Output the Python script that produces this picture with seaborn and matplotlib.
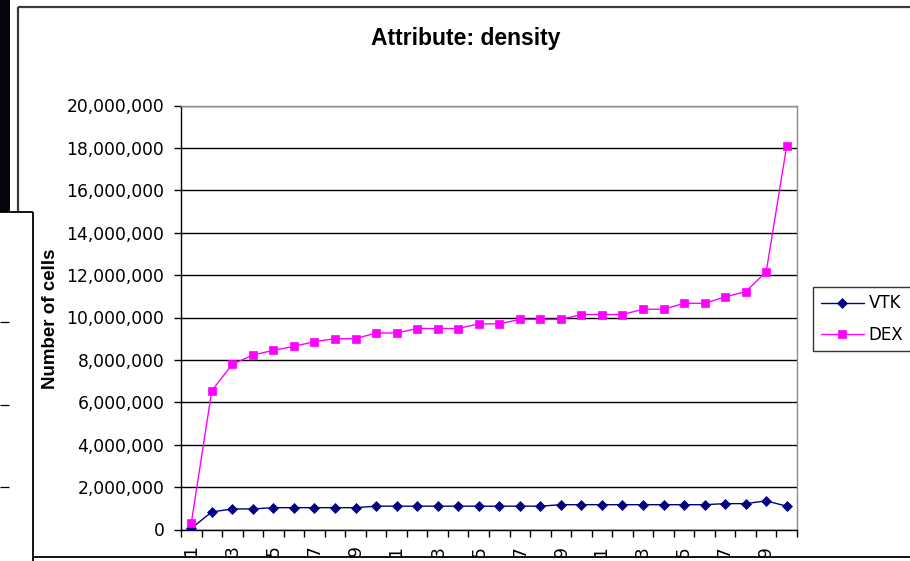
import matplotlib
matplotlib.use("Agg")
import matplotlib.pyplot as plt
from matplotlib.lines import Line2D
from matplotlib.patches import Rectangle
from matplotlib.ticker import FuncFormatter, FixedLocator
import seaborn as sns
import pandas as pd

# ---- data ----
categories = list(range(1, 31))
vtk_values = [50_000, 830_000, 970_000, 970_000,
              1_030_000, 1_030_000, 1_030_000, 1_030_000, 1_030_000,
              1_100_000, 1_100_000, 1_100_000, 1_100_000, 1_100_000,
              1_100_000, 1_100_000, 1_100_000, 1_100_000,
              1_170_000, 1_170_000, 1_170_000, 1_170_000, 1_170_000,
              1_170_000, 1_170_000, 1_170_000,
              1_220_000, 1_220_000, 1_350_000, 1_100_000]
dex_values = [300_000, 6_550_000, 7_790_000, 8_230_000, 8_450_000,
              8_640_000, 8_860_000, 9_000_000, 9_000_000, 9_270_000,
              9_270_000, 9_480_000, 9_480_000, 9_480_000, 9_700_000,
              9_700_000, 9_910_000, 9_910_000, 9_910_000, 10_140_000,
              10_140_000, 10_140_000, 10_390_000, 10_390_000, 10_670_000,
              10_670_000, 10_970_000, 11_220_000, 12_150_000, 18_100_000]
series_names = ["VTK", "DEX"]
y_ticks = list(range(0, 20_000_001, 2_000_000))
title_text = "Attribute: density"
ylabel_text = "Number of cells"

df = pd.DataFrame({
    "pos": list(range(len(categories))) * 2,
    "category": categories * 2,
    "value": vtk_values + dex_values,
    "series": ["VTK"] * len(categories) + ["DEX"] * len(categories),
})

sns.set_style("white")
plt.rcParams["font.family"] = ["DejaVu Sans"]
plt.rcParams["text.color"] = "black"
plt.rcParams["axes.labelcolor"] = "black"
plt.rcParams["xtick.color"] = "black"
plt.rcParams["ytick.color"] = "black"

W, H = 910, 561
fig = plt.figure(figsize=(W / 100, H / 100), dpi=100)
fig.patch.set_facecolor("white")

ax_left, ax_right, ax_top, ax_bottom = 181, 797, 105.5, 529.5
ax = fig.add_axes([ax_left / W, (H - ax_bottom) / H,
                   (ax_right - ax_left) / W, (ax_bottom - ax_top) / H])

styles = {"VTK": dict(color="#000080", marker="D", markersize=4.6),
          "DEX": dict(color="#FF00FF", marker="s", markersize=5.8)}
for name in series_names:
    st = styles[name]
    sns.lineplot(data=df[df["series"] == name], x="pos", y="value", ax=ax,
                 color=st["color"], marker=st["marker"],
                 markersize=st["markersize"], markeredgecolor=st["color"],
                 markeredgewidth=0.5, linewidth=1.0, label=name,
                 legend=False, zorder=3)

ax.set_xlim(-0.5, len(categories) - 0.5)
ax.set_ylim(0, 20_000_000)
ax.set_yticks(y_ticks)
ax.yaxis.set_major_formatter(FuncFormatter(lambda v, p: f"{int(v):,}"))
ax.tick_params(axis="y", which="major", direction="out", length=5, width=1,
               color="black", labelcolor="black", pad=7, labelsize=12.3,
               left=True)

# category labels every other one, rotated; tick marks between categories
label_pos = list(range(0, len(categories), 2))
ax.xaxis.set_major_locator(FixedLocator(label_pos))
ax.set_xticklabels([str(categories[i]) for i in label_pos], rotation=90)
ax.xaxis.set_minor_locator(FixedLocator([i - 0.5 for i in range(len(categories) + 1)]))
ax.tick_params(axis="x", which="major", length=0, pad=11.5, labelsize=12.3,
               labelcolor="black", bottom=True)
ax.tick_params(axis="x", which="minor", direction="out", length=5, width=1,
               color="black", bottom=True)
ax.set_xlabel("")

ax.set_axisbelow(True)
ax.yaxis.grid(True, color="black", linewidth=1.0)
ax.xaxis.grid(False)
for s in ("left", "bottom"):
    ax.spines[s].set_color("black")
    ax.spines[s].set_linewidth(1.0)
for s in ("top", "right"):
    ax.spines[s].set_color("#8c8c8c")
    ax.spines[s].set_linewidth(1.0)
    ax.spines[s].set_visible(True)

ax.set_ylabel(ylabel_text, fontsize=13.5, fontweight="bold",
              family=["Liberation Sans", "DejaVu Sans"],
              verticalalignment="baseline", color="black")
ax.yaxis.set_label_coords(55 / W, (H - 319) / H, transform=fig.transFigure)

ax.set_title(title_text, fontsize=16.5, fontweight="bold",
             family=["Liberation Sans", "DejaVu Sans"], color="black",
             x=(466 - ax_left) / (ax_right - ax_left),
             y=(ax_bottom - 45.5) / (ax_bottom - ax_top), va="baseline",
             pad=0)

leg = ax.legend(loc="upper left", bbox_to_anchor=(813 / W, (H - 287) / H),
                bbox_transform=fig.transFigure, borderaxespad=0,
                frameon=True, fancybox=False, edgecolor="black",
                fontsize=12, handlelength=2.6, handletextpad=0.3,
                borderpad=0.45, labelspacing=0.78)
leg.get_frame().set_linewidth(1.0)
for t in leg.get_texts():
    t.set_color("black")


# ---- screenshot frame elements ----
def px_line(x0, y0, x1, y1, color="black", lw=1.0, z=20):
    fig.add_artist(Line2D([x0 / W, x1 / W], [1 - y0 / H, 1 - y1 / H],
                          transform=fig.transFigure, color=color,
                          linewidth=lw, zorder=z, solid_capstyle="butt"))


def px_rect(x0, y0, x1, y1, color, z=15):
    fig.add_artist(Rectangle((x0 / W, 1 - y1 / H), (x1 - x0) / W,
                             (y1 - y0) / H, transform=fig.transFigure,
                             facecolor=color, edgecolor="none", zorder=z))


px_rect(0, 0, 9.5, 212, "#05050f")
px_line(17.5, 7, 17.5, 212, color="#3a3a3a", lw=1.6)
px_line(17.5, 7, 910, 7, color="#3a3a3a", lw=1.6)
px_rect(0, 212, 32.5, 561, "white")
px_line(0, 212, 32.5, 212, lw=1.3)
px_line(32.5, 212, 32.5, 561, lw=1.3)
px_rect(32.5, 557.5, 910, 561, "white")
px_line(32.5, 557, 910, 557, lw=1.3)
for yy in (322, 405, 487):
    px_line(0, yy, 8.5, yy, lw=0.9)

fig.savefig("out.png", dpi=100, facecolor="white")
